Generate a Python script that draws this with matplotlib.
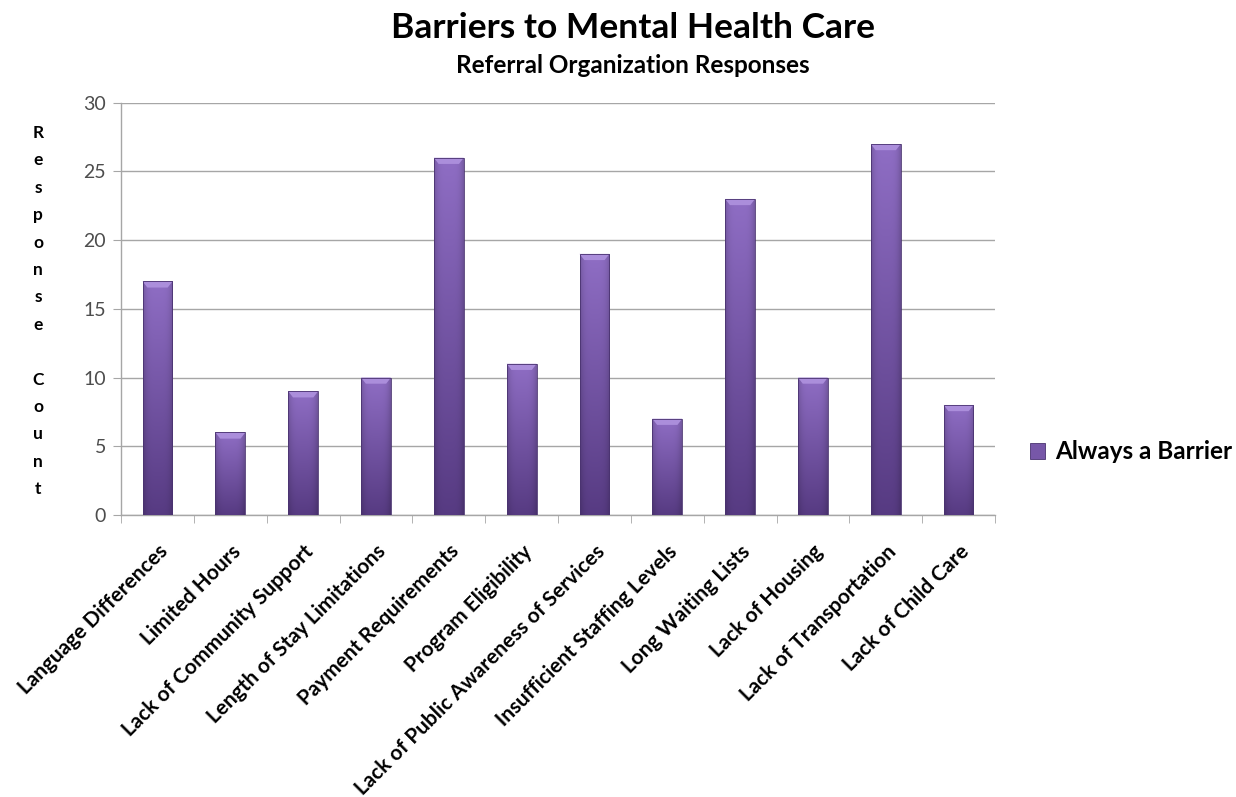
import numpy as np
import matplotlib
matplotlib.use("Agg")
import matplotlib.pyplot as plt
from matplotlib.patches import Patch, Polygon

plt.rcParams["font.family"] = ["Lato", "DejaVu Sans"]

# ── data ──
categories = [
    "Language Differences", "Limited Hours", "Lack of Community Support",
    "Length of Stay Limitations", "Payment Requirements", "Program Eligibility",
    "Lack of Public Awareness of Services", "Insufficient Staffing Levels",
    "Long Waiting Lists", "Lack of Housing", "Lack of Transportation",
    "Lack of Child Care",
]
always_barrier = [17, 6, 9, 10, 26, 11, 19, 7, 23, 10, 27, 8]
series_name = "Always a Barrier"
y_ticks = [0, 5, 10, 15, 20, 25, 30]

GRID = "#a6a6a6"
TOP_C = np.array([0.56, 0.43, 0.77])
BOT_C = np.array([0.34, 0.23, 0.51])

fig = plt.figure(figsize=(12.36, 7.97), dpi=100)
ax = fig.add_axes([0.098, 0.354, 0.707, 0.517])

x = np.arange(len(categories))
width = 0.41
bars = ax.bar(x, always_barrier, width, color="#6f52a0", edgecolor="none", zorder=2)

# gradient fill per bar (light top -> dark bottom, darker edges)
h = np.linspace(1, 0, 200)[:, None]
w = np.linspace(-1, 1, 60)[None, :]
edge = 1 - 0.18 * np.abs(w) ** 4
for bar, v in zip(bars, always_barrier):
    img = (BOT_C[None, None, :] + (TOP_C - BOT_C)[None, None, :] * h[:, :, None]) * edge[:, :, None]
    x0 = bar.get_x()
    im = ax.imshow(np.clip(img, 0, 1), extent=[x0, x0 + width, 0, v], aspect="auto",
                   zorder=3, interpolation="bilinear")
    im.set_clip_path(bar)
    # top bevel
    bev = 0.45
    inset = width * 0.16
    ax.add_patch(Polygon([[x0, v], [x0 + width, v], [x0 + width - inset, v - bev],
                          [x0 + inset, v - bev]], closed=True,
                         facecolor="#ab8edb", edgecolor="none", zorder=4))
    ax.add_patch(plt.Rectangle((x0, 0), width, v, fill=False, edgecolor="#4a3370",
                               linewidth=0.6, zorder=5))

ax.set_xlim(-0.5, len(categories) - 0.5)
ax.set_ylim(0, 30)
ax.set_yticks(y_ticks)
ax.yaxis.grid(True, color=GRID, linewidth=1)
ax.set_axisbelow(True)
for s in ["top", "right"]:
    ax.spines[s].set_visible(False)
for s in ["left", "bottom"]:
    ax.spines[s].set_color(GRID)
    ax.spines[s].set_linewidth(1)

ax.tick_params(axis="y", length=6, color=GRID, labelsize=14, labelcolor="#4d4d4d", pad=5)
ax.set_xticks(x)
ax.set_xticklabels(categories, rotation=45, ha="right", rotation_mode="anchor",
                   fontsize=15, fontweight="bold")
ax.tick_params(axis="x", length=0, pad=19)
ax.set_xticks(np.arange(len(categories) + 1) - 0.5, minor=True)
ax.tick_params(axis="x", which="minor", length=6, color=GRID)

# titles
fig.text(0.512, 0.965, "Barriers to Mental Health Care", ha="center", va="center",
         fontsize=25.5, fontweight="bold")
fig.text(0.512, 0.918, "Referral Organization Responses", ha="center", va="center",
         fontsize=17.5, fontweight="bold")

# stacked y-axis label
label = "Response Count"
y_top, step = 1 - 133 / 797, 27.4 / 797
for i, ch in enumerate(label):
    fig.text(0.031, y_top - i * step, ch, ha="center", va="center",
             fontsize=12.5, fontweight="bold")

# legend
handle = Patch(facecolor="#7757a8", edgecolor="#4a3370", linewidth=0.6)
fig.legend([handle], [series_name], loc="center left", bbox_to_anchor=(0.816, 0.433),
           frameon=False, prop={"size": 17.5, "weight": "bold"},
           handlelength=0.6, handleheight=0.6, handletextpad=0.4)

fig.savefig("out.png", dpi=100)
